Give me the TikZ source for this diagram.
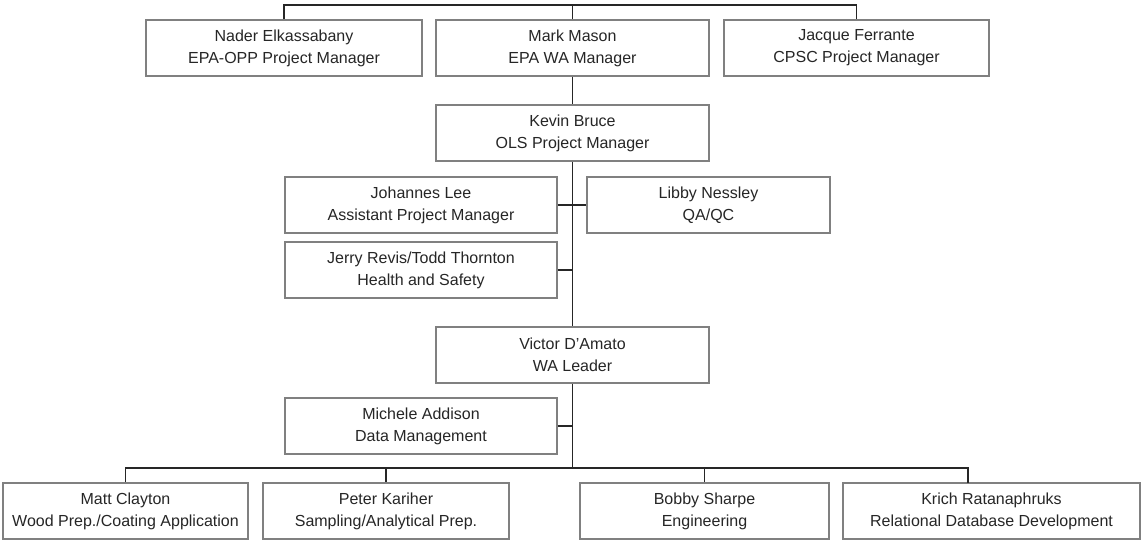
\documentclass[tikz,border=0pt]{standalone}
\usepackage{fontspec}
\setmainfont{Liberation Sans}
\begin{document}
\begin{tikzpicture}[x=1pt,y=-1pt,
  person/.style={draw=black!50, line width=1.1pt, fill=white, minimum height=56pt, inner sep=0pt,
    align=center, font=\fontsize{16}{22}\selectfont, text=black!85},
  link/.style={draw=black!85, line width=1.3pt}]
\useasboundingbox (0,0) rectangle (1143,540);
\node[person, minimum width=276pt] (nader) at (284,48) {Nader Elkassabany\\EPA-OPP Project Manager};
\node[person, minimum width=273pt] (mark) at (572.5,48) {Mark Mason\\EPA WA Manager};
\node[person, minimum width=265pt] (jacque) at (856.5,48) {Jacque Ferrante\\CPSC Project Manager};
\node[person, minimum width=273pt] (kevin) at (572.5,133) {Kevin Bruce\\OLS Project Manager};
\node[person, minimum width=272pt] (johannes) at (421,205) {Johannes Lee\\Assistant Project Manager};
\node[person, minimum width=243pt] (libby) at (708.5,205) {Libby Nessley\\QA/QC};
\node[person, minimum width=272pt] (jerry) at (421,270) {Jerry Revis/Todd Thornton\\Health and Safety};
\node[person, minimum width=273pt] (victor) at (572.5,355) {Victor D'Amato\\WA Leader};
\node[person, minimum width=272pt] (michele) at (421,426) {Michele Addison\\Data Management};
\node[person, minimum width=245pt] (matt) at (125.5,511) {Matt Clayton\\Wood Prep./Coating Application};
\node[person, minimum width=246pt] (peter) at (386,511) {Peter Kariher\\Sampling/Analytical Prep.};
\node[person, minimum width=249pt] (bobby) at (704.5,511) {Bobby Sharpe\\Engineering};
\node[person, minimum width=297pt] (krich) at (991.5,511) {Krich Ratanaphruks\\Relational Database Development};
\coordinate (t) at (0,5);
\coordinate (b) at (0,468);
\coordinate (kc) at (968,483);
\draw[link] (nader.north) -- (nader.north |- t) -- (jacque.north |- t) -- (jacque.north);
\draw[link] (mark.north |- t) -- (mark.north);
\draw[link] (mark.south) -- (kevin.north);
\draw[link] (kevin.south) -- (victor.north);
\draw[link] (johannes.east) -- (libby.west);
\draw[link] (jerry.east) -- (jerry.east -| kevin.south);
\draw[link] (michele.east) -- (michele.east -| victor.south);
\draw[link] (victor.south) -- (victor.south |- b);
\draw[link] (matt.north) -- (matt.north |- b) -- (kc |- b) -- (kc);
\draw[link] (peter.north |- b) -- (peter.north);
\draw[link] (bobby.north |- b) -- (bobby.north);
\end{tikzpicture}
\end{document}
